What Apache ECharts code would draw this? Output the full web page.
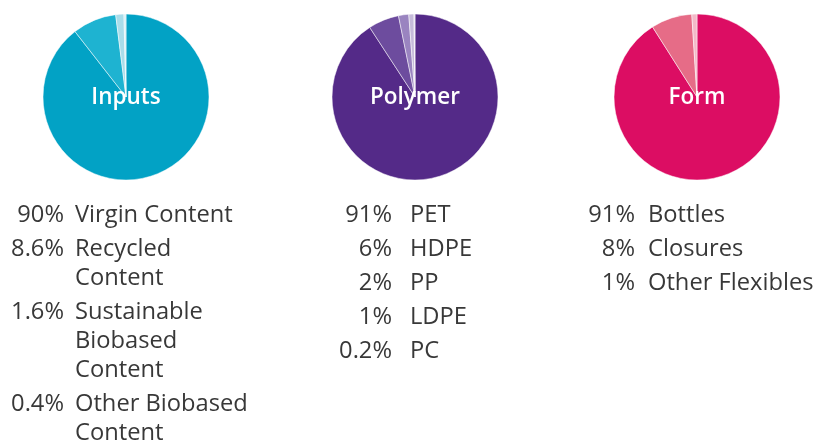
<!DOCTYPE html>
<html>
<head>
<meta charset="utf-8">
<script src="https://cdn.jsdelivr.net/npm/echarts@6/dist/echarts.min.js"></script>
<style>html,body{margin:0;padding:0;background:#fff}#c{width:815px;height:441px}</style>
</head>
<body>
<div id="c"></div>
<script>
const groupTitles = ['Inputs', 'Polymer', 'Form'];

const inputsNames = ['Virgin Content', 'Recycled\nContent', 'Sustainable\nBiobased\nContent', 'Other Biobased\nContent'];
const inputsValues = [90, 8.6, 1.6, 0.4];
const inputsColors = ['#02A2C5', '#1EB3D1', '#A9DDEA', '#D6EFF5'];

const polymerNames = ['PET', 'HDPE', 'PP', 'LDPE', 'PC'];
const polymerValues = [91, 6, 2, 1, 0.2];
const polymerColors = ['#542A88', '#6D4C9E', '#9A84C0', '#C6BBDA', '#E3DCEE'];

const formNames = ['Bottles', 'Closures', 'Other Flexibles'];
const formValues = [91, 8, 1];
const formColors = ['#DC0D63', '#E66C87', '#F3B9C7'];

const groups = [
  {title: groupTitles[0], names: inputsNames, values: inputsValues, colors: inputsColors, cx: 126, pctRight: 64, nameLeft: 75},
  {title: groupTitles[1], names: polymerNames, values: polymerValues, colors: polymerColors, cx: 415, pctRight: 392, nameLeft: 410},
  {title: groupTitles[2], names: formNames, values: formValues, colors: formColors, cx: 697, pctRight: 635, nameLeft: 648}
];

const FONT = '"Open Sans", "Noto Sans", sans-serif';
const FS = 23.7;
const CY = 97, R = 83;
const TOP = 215, LINE = 29, GAP = 5;

const series = [];
const graphic = [];
groups.forEach(g => {
  series.push({
    type: 'pie',
    center: [g.cx, CY],
    radius: [0, R],
    startAngle: 90,
    clockwise: true,
    silent: true,
    animation: false,
    z: 1,
    label: {show: false},
    labelLine: {show: false},
    itemStyle: {borderColor: '#fff', borderWidth: 0.5},
    data: g.values.map((v, i) => ({name: g.names[i], value: v, itemStyle: {color: g.colors[i]}}))
  });
  graphic.push({
    type: 'text', x: g.cx, y: CY + 1, z: 100,
    style: {text: g.title, fill: '#fff', font: '600 22.5px ' + FONT, align: 'center', verticalAlign: 'middle'}
  });
  let y = TOP;
  g.values.forEach((v, i) => {
    const lines = g.names[i].split('\n');
    graphic.push({
      type: 'text', x: g.pctRight, y: y, z: 100,
      style: {text: v + '%', fill: '#383838', font: FS + 'px ' + FONT, align: 'right', verticalAlign: 'middle'}
    });
    lines.forEach((ln, k) => {
      graphic.push({
        type: 'text', x: g.nameLeft, y: y + k * LINE, z: 100,
        style: {text: ln, fill: '#383838', font: FS + 'px ' + FONT, align: 'left', verticalAlign: 'middle'}
      });
    });
    y += lines.length * LINE + GAP;
  });
});

const chart = echarts.init(document.getElementById('c'), null, {renderer: 'canvas'});
chart.setOption({animation: false, series: series, graphic: graphic});
</script>
</body>
</html>
